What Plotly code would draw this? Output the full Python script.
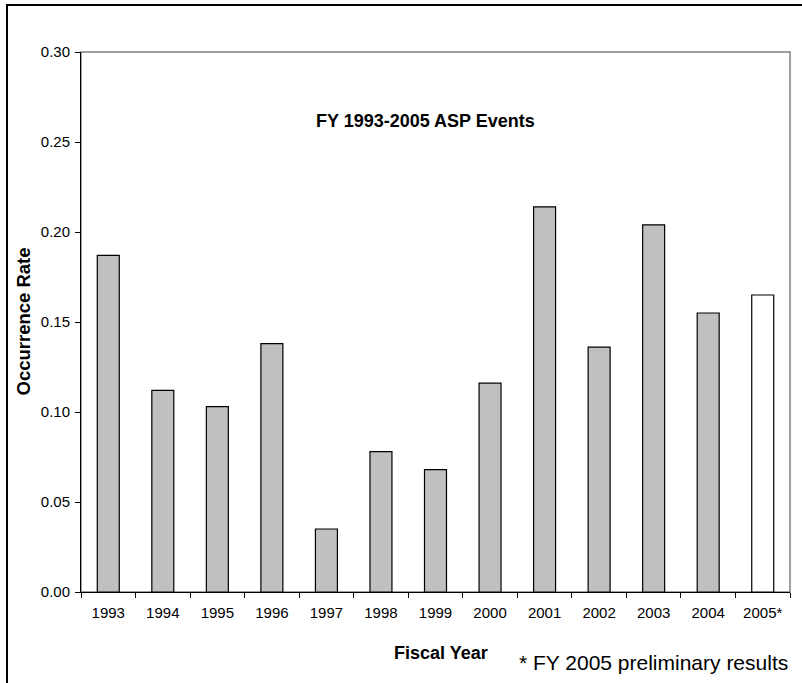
import plotly.graph_objects as go

years = ["1993", "1994", "1995", "1996", "1997", "1998", "1999",
         "2000", "2001", "2002", "2003", "2004", "2005*"]
rates = [0.187, 0.112, 0.103, 0.138, 0.035, 0.078, 0.068,
         0.116, 0.214, 0.136, 0.204, 0.155, 0.165]
fill_colors = ["#C0C0C0"] * 12 + ["#FFFFFF"]

title_text = "FY 1993-2005 ASP Events"
y_title = "Occurrence Rate"
x_title = "Fiscal Year"
footnote = "* FY 2005 preliminary results"

FONT = "Liberation Sans, Arial, sans-serif"

W, H = 802, 683
# plot area in window pixels: x 81..790, y 52..592
L, R, T, B = 81, W - 790, 52, H - 592
PW, PH = 790 - 81, 592 - 52


def px(x):
    return (x - 81) / PW


def py(y):
    return (592 - y) / PH


fig = go.Figure(
    go.Bar(
        x=years,
        y=rates,
        marker=dict(color=fill_colors, line=dict(color="#000000", width=1.2)),
        hoverinfo="x+y",
    )
)

fig.update_layout(
    width=W,
    height=H,
    margin=dict(l=L, r=R, t=T, b=B, pad=0),
    paper_bgcolor="white",
    plot_bgcolor="white",
    bargap=0.597,
    showlegend=False,
    font=dict(family=FONT, color="#000000", size=15),
    xaxis=dict(
        type="category",
        showline=True,
        linecolor="#000000",
        linewidth=1,
        ticks="outside",
        tickson="boundaries",
        ticklen=5,
        tickcolor="#000000",
        tickfont=dict(size=15),
        ticklabelstandoff=7,
        showgrid=False,
        zeroline=False,
        fixedrange=True,
    ),
    yaxis=dict(
        range=[0, 0.30],
        tickvals=[0, 0.05, 0.10, 0.15, 0.20, 0.25, 0.30],
        tickformat=".2f",
        showline=True,
        linecolor="#000000",
        linewidth=1,
        ticks="outside",
        ticklen=5,
        tickcolor="#000000",
        tickfont=dict(size=15),
        ticklabelstandoff=2,
        showgrid=False,
        zeroline=False,
        fixedrange=True,
    ),
    shapes=[
        dict(type="rect", xref="paper", yref="paper", x0=0, y0=0, x1=1, y1=1,
             line=dict(color="#808080", width=1.5), layer="below"),
        dict(type="rect", xref="paper", yref="paper",
             x0=px(7), y0=py(720), x1=px(840), y1=py(5),
             line=dict(color="#000000", width=2), layer="above"),
    ],
    annotations=[
        dict(text="<b>" + title_text + "</b>", xref="paper", yref="paper",
             x=px(425), y=py(121), xanchor="center", yanchor="middle",
             showarrow=False, font=dict(size=18)),
        dict(text="<b>" + y_title + "</b>", xref="paper", yref="paper",
             x=px(22.5), y=py(322), xanchor="center", yanchor="middle",
             textangle=-90, showarrow=False, font=dict(size=18.5)),
        dict(text="<b>" + x_title + "</b>", xref="paper", yref="paper",
             x=px(441), y=py(653), xanchor="center", yanchor="middle",
             showarrow=False, font=dict(size=18)),
        dict(text=footnote, xref="paper", yref="paper",
             x=px(517), y=py(662), xanchor="left", yanchor="middle",
             showarrow=False, font=dict(size=21)),
    ],
)

fig.write_html(
    "out.html",
    config={"displayModeBar": False},
    post_script="document.body.style.margin='0px';"
                "document.body.style.overflow='hidden';",
)
